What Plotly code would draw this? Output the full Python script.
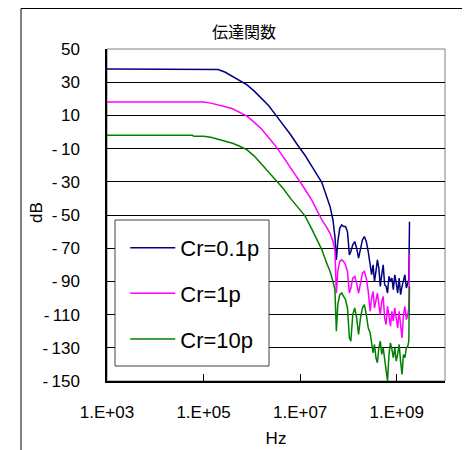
import plotly.graph_objects as go

# ---- data ----
freq_exp = [3.0, 3.5, 4.0, 4.5, 4.77, 4.8, 5.0, 5.15, 5.3, 5.45, 5.6, 5.75, 5.9, 6.05,
            6.2, 6.35, 6.5, 6.65, 6.8, 6.95, 7.1, 7.25, 7.35, 7.45, 7.55, 7.62, 7.68, 7.72,
            7.75, 7.78, 7.82, 7.86, 7.90, 7.94, 7.98, 8.02, 8.05, 8.09, 8.13, 8.17, 8.21,
            8.25, 8.29, 8.33, 8.37, 8.41, 8.45, 8.48, 8.51, 8.54, 8.57, 8.60, 8.63, 8.66,
            8.69, 8.72, 8.75, 8.78, 8.81, 8.84, 8.87, 8.90, 8.93, 8.96, 8.99, 9.02, 9.05,
            9.08, 9.11, 9.14, 9.17, 9.20, 9.23, 9.25, 9.265]

cr01_db = [38, 38, 38, 38, 38, 38, 38, 38, 37.6, 36, 33.6, 31.2, 28.4, 24.6,
           20.5, 15.8, 10, 4.5, -1.5, -8, -14, -21, -25.5, -30.5, -39, -45, -53, -63,
           -77, -66, -58, -56, -57, -57, -60, -74, -72, -68, -66, -70, -76,
           -70, -65, -63, -66, -72, -82, -86, -80, -90, -84, -77, -82, -93,
           -86, -80, -92, -93, -97, -87, -90, -88, -95, -86, -91, -97, -88,
           -98, -93, -90, -86, -94, -91, -89, -54]

cr1_db = [18, 18, 18, 18, 18, 18, 18, 17.4, 16.5, 15.2, 14, 12, 9.6, 5.8,
          1.8, -3.5, -8.8, -15, -21.5, -27.5, -34.5, -41.5, -47, -53, -57.5, -61, -66, -71,
          -97, -84, -78, -77, -78, -80, -84, -97, -94, -88, -87, -91, -97,
          -90, -85, -84, -88, -96, -108, -100, -96, -106, -100, -97, -104, -110,
          -102, -99, -112, -116, -105, -110, -117, -108, -114, -106, -112, -118, -108,
          -116, -124, -110, -105, -113, -110, -106, -73]

cr10_db = [-2, -2, -2, -2, -2, -2.6, -2.6, -3.2, -4.3, -5.3, -6.8, -8.6, -10.8, -14.5,
           -19.5, -24.5, -29, -34, -40, -45, -50.5, -59, -65, -71, -79, -84, -90, -95,
           -120, -104, -98, -97, -99, -101, -106, -124, -126, -110, -106, -112, -122,
           -112, -106, -104, -110, -118, -121, -128, -133, -128, -136, -139, -130, -126,
           -134, -130, -138, -142, -150, -134, -127, -131, -136, -130, -138, -134, -128,
           -138, -146, -134, -136, -130, -129, -126, -93]

series_names = ["Cr=0.1p", "Cr=1p", "Cr=10p"]
series_colors = ["#000080", "#FF00FF", "#008000"]

y_tick_vals = [-150, -130, -110, -90, -70, -50, -30, -10, 10, 30, 50]
y_tick_text = ["-\u2009150", "-\u2009130", "-\u2009110", "-\u200990", "-\u200970",
               "-\u200950", "-\u200930", "-\u200910", "10", "30", "50"]
x_tick_exps = [3, 5, 7, 9]
x_tick_text = ["1.E+03", "1.E+05", "1.E+07", "1.E+09"]

freq_hz = [10 ** e for e in freq_exp]

FONT = "Liberation Sans, Arial, sans-serif"

# page body has an 8px margin, so the figure is laid out 8px smaller
W, H = 462, 442
L, R, T, B = 99, 437, 41, 373          # plot area in figure pixels
PW, PH = R - L, B - T


def px(x):
    return (x - L) / PW


def py(y):
    return (B - y) / PH


fig = go.Figure()
for name, color, vals in zip(series_names, series_colors, [cr01_db, cr1_db, cr10_db]):
    fig.add_trace(go.Scatter(x=freq_hz, y=vals, mode="lines", name=name,
                             legendgroup=name,
                             line=dict(color=color, width=1.5)))

fig.update_layout(
    width=W, height=H,
    margin=dict(l=L, r=W - R, t=T, b=H - B, autoexpand=False),
    paper_bgcolor="white", plot_bgcolor="white",
    font=dict(family=FONT, size=17, color="black"),
    title=dict(text="伝達関数", x=236 / W, xanchor="center", xref="container",
               y=1 - 24 / H, yanchor="middle", yref="container",
               font=dict(family="Noto Sans CJK JP", size=16, color="black")),
    showlegend=True,
    legend=dict(x=0.054, y=0.464, xanchor="left", yanchor="top",
                bgcolor="rgba(0,0,0,0)", borderwidth=0,
                font=dict(family=FONT, size=22, color="black"),
                tracegroupgap=14, itemwidth=45),
    xaxis=dict(type="log", range=[3, 10],
               tickvals=[10 ** e for e in x_tick_exps], ticktext=x_tick_text,
               ticks="inside", ticklen=7, tickcolor="black", tickwidth=1,
               showline=True, linecolor="black", linewidth=1.5,
               showgrid=False, zeroline=False,
               ticklabelstandoff=15,
               title=dict(text="Hz", standoff=11, font=dict(size=17))),
    yaxis=dict(range=[-150, 50], tickvals=y_tick_vals, ticktext=y_tick_text,
               ticks="inside", ticklen=7, tickcolor="black", tickwidth=1,
               showline=True, linecolor="black", linewidth=1.5,
               showgrid=True, gridcolor="black", gridwidth=1, zeroline=False,
               ticklabelstandoff=22),
    annotations=[
        dict(text="dB", xref="paper", yref="paper", x=px(28), y=py(205),
             xanchor="center", yanchor="middle", textangle=-90, showarrow=False,
             font=dict(family=FONT, size=17, color="black")),
    ],
    shapes=[
        # outer chart frame
        dict(type="rect", xref="paper", yref="paper",
             x0=px(13), x1=px(459), y0=py(H + 20), y1=py(0.5),
             line=dict(color="black", width=1), fillcolor="rgba(0,0,0,0)", layer="below"),
        # plot area border
        dict(type="rect", xref="paper", yref="paper", x0=0, x1=1, y0=0, y1=1,
             line=dict(color="#808080", width=1), fillcolor="rgba(0,0,0,0)", layer="below"),
        # legend box
        dict(type="rect", xref="paper", yref="paper",
             x0=px(107), x1=px(261), y0=py(358), y1=py(212),
             line=dict(color="#404040", width=1), fillcolor="white", layer="above"),
    ],
)

fig.write_html("out.html")
